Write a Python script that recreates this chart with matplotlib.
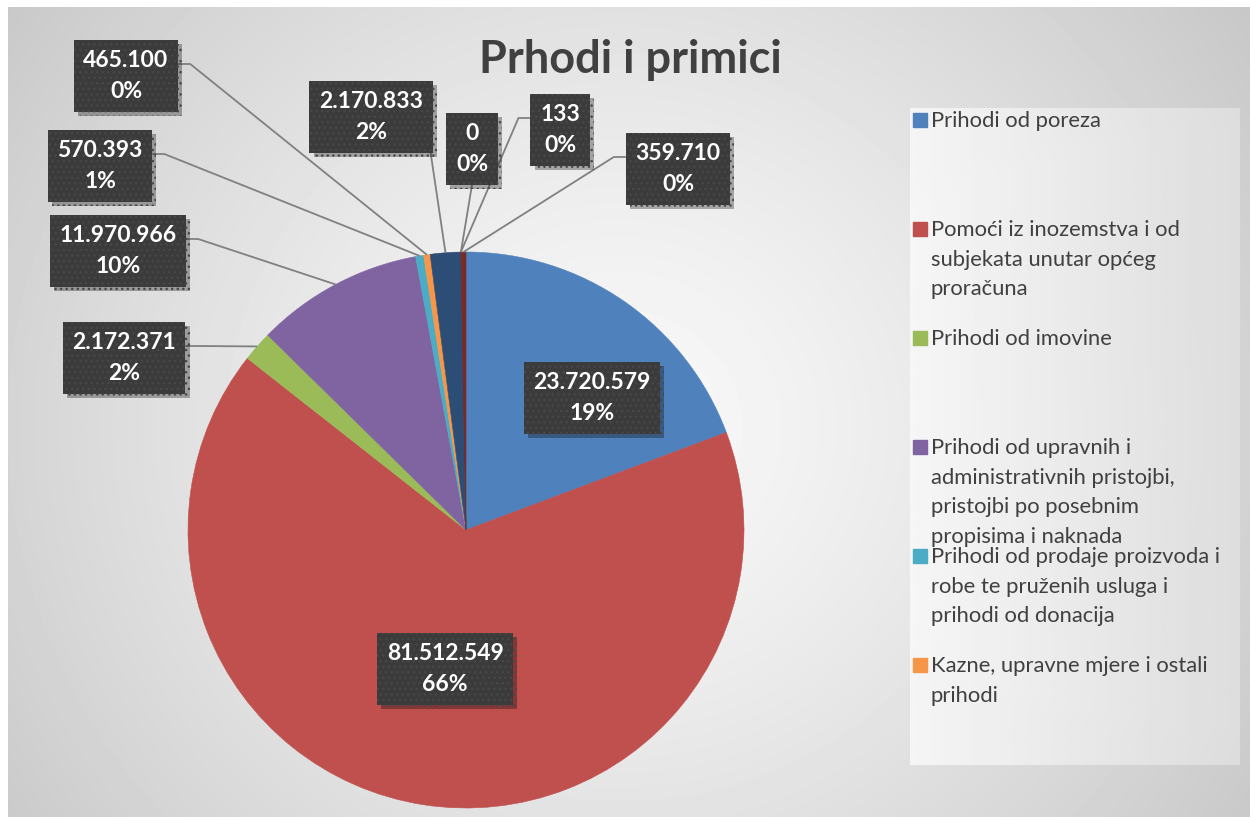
import numpy as np
import matplotlib.pyplot as plt
from matplotlib import patheffects as pe
from matplotlib.patches import Rectangle

plt.rcParams['font.family'] = ['Lato', 'DejaVu Sans']

# data
values = [23720579, 81512549, 2172371, 11970966, 570393, 465100, 2170833, 0, 133, 359710]
colors = ['#4F81BD', '#C0504D', '#9BBB59', '#8064A2', '#4BACC6', '#F79646',
          '#2C4D75', '#5F7530', '#4D3B62', '#772C2A']
legend_labels = [
    'Prihodi od poreza',
    'Pomoći iz inozemstva i od\nsubjekata unutar općeg\nproračuna',
    'Prihodi od imovine',
    'Prihodi od upravnih i\nadministrativnih pristojbi,\npristojbi po posebnim\npropisima i naknada',
    'Prihodi od prodaje proizvoda i\nrobe te pruženih usluga i\nprihodi od donacija',
    'Kazne, upravne mjere i ostali\nprihodi',
]
title = 'Prhodi i primici'

# layout (pixels, y measured from top of image)
W, H = 1250, 817
pie_center = (466, 530)
pie_radius = 278
label_pos = [(592, 398), (445, 669), (124, 358), (118, 251), (100, 166),
             (126, 76), (371, 117), (472, 149), (560, 130), (678, 169)]
leader_side = [None, None, 'r', 'r', 'r', 'r', 'b', 'b', 'l', 'l']


def percents_summing_to_100(vals):
    # Excel-style: largest remainder so the labels add up to 100 %
    raw = np.array(vals, dtype=float) / sum(vals) * 100
    base = np.floor(raw).astype(int)
    rest = 100 - base.sum()
    order = np.argsort(-(raw - base))
    base[order[:rest]] += 1
    return base


fig = plt.figure(figsize=(W / 100, H / 100), dpi=100)
fig.patch.set_facecolor('white')

# chart area background: radial grey gradient
bg = fig.add_axes([8 / W, 0, 1 - 8 / W, (H - 7) / H])
yy, xx = np.mgrid[0:H - 7, 0:W - 8]
d = np.hypot(xx - 610, (yy - 420) * 1.05) / 760
grad = np.clip(0.975 - 0.19 * d ** 1.3, 0, 1)
bg.imshow(grad, cmap='gray', vmin=0, vmax=1, aspect='auto', interpolation='bilinear')
bg.set_axis_off()

ax = fig.add_axes([0, 0, 1, 1])
ax.set_facecolor('none')

# legend box with a lighter gradient
lg = np.tile(np.linspace(0.975, 0.88, 200), (10, 1))
ax.imshow(lg, cmap='gray', vmin=0, vmax=1, aspect='auto', alpha=0.85,
          extent=(910, 1240, H - 765, H - 108), zorder=1)

cx, cy = pie_center[0], H - pie_center[1]
wedges, _ = ax.pie(values, colors=colors, startangle=90, counterclock=False,
                   center=(cx, cy), radius=pie_radius,
                   wedgeprops=dict(linewidth=0.4, edgecolor='none'))
for w, c in zip(wedges, colors):
    w.set_edgecolor(c)
    w.set_zorder(2)

ax.set_xlim(0, W)
ax.set_ylim(0, H)
ax.set_axis_off()

pcts = percents_summing_to_100(values)
texts = []
for v, p, (lx, ly) in zip(values, pcts, label_pos):
    s = f'{v:,}'.replace(',', '.') + '\n' + f'{p}%'
    t = ax.text(lx, H - ly, s, ha='center', va='center', color='white',
                fontsize=16.5, fontweight='bold', linespacing=1.6, zorder=6,
                bbox=dict(boxstyle='square,pad=0.42', fc='#3b3b3b',
                          ec='#474747', lw=0, hatch='...'))
    t.get_bbox_patch().set_path_effects([
        pe.SimplePatchShadow(offset=(3, -3), shadow_rgbFace='black', alpha=0.3),
        pe.Normal()])
    texts.append(t)

fig.canvas.draw()
renderer = fig.canvas.get_renderer()

# leader lines from the label boxes to the slice edges
for w, t, side in zip(wedges, texts, leader_side):
    if side is None:
        continue
    mid = np.deg2rad((w.theta1 + w.theta2) / 2)
    px = cx + pie_radius * np.cos(mid)
    py = cy + pie_radius * np.sin(mid)
    bb = t.get_bbox_patch().get_window_extent(renderer)
    bcy = (bb.y0 + bb.y1) / 2 + 12
    if side == 'r':
        xs, ys = [bb.x1, bb.x1 + 12, px], [bcy, bcy, py]
    elif side == 'l':
        xs, ys = [bb.x0, bb.x0 - 12, px], [bcy, bcy, py]
    else:
        ax_ = (bb.x0 + bb.x1) / 2
        if px > bb.x1:
            ax_ = bb.x1 - 2
        xs, ys = [ax_, px], [bb.y0, py]
    ax.plot(xs, ys, color='#808080', lw=1.3, zorder=4, solid_capstyle='butt')

# legend entries
for i, (lab, c) in enumerate(zip(legend_labels, colors)):
    yc = 120 + 109 * i
    ax.add_patch(Rectangle((913, H - yc - 7), 14, 14, color=c, zorder=3))
    ax.text(931, H - yc + 9, lab, ha='left', va='top', fontsize=15.8,
            color='#404040', linespacing=1.6, zorder=3)

ax.text(630, H - 73, title, ha='center', va='baseline', fontsize=32.5,
        fontweight='bold', color='#404040', zorder=3)

fig.savefig('out.png', dpi=100)
